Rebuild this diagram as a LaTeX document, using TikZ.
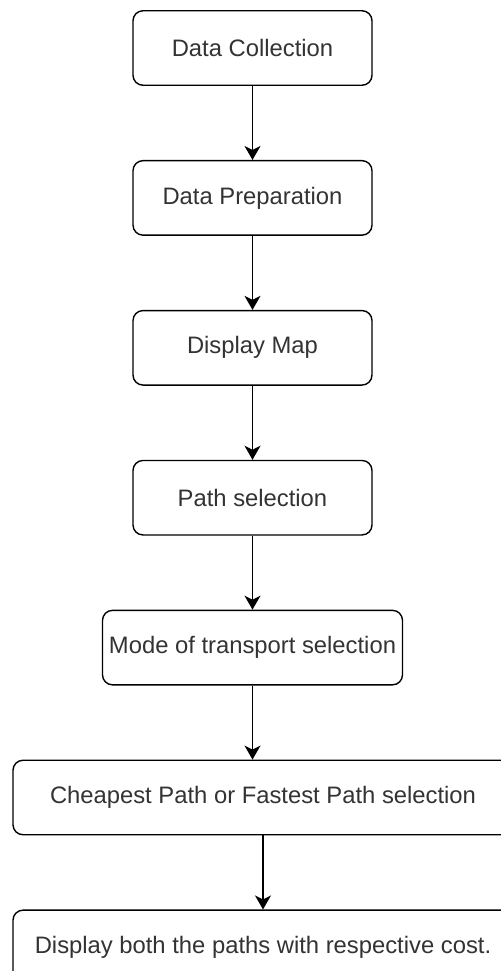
\documentclass[tikz,border=0pt]{standalone}
\usepackage{fontspec}
\setmainfont{Liberation Sans}
\usepackage{xcolor}
\usepackage{tikz}
\usetikzlibrary{positioning,arrows.meta}

\definecolor{txtgray}{HTML}{333333}

\begin{document}
\begin{tikzpicture}[
  stage/.style={draw, line width=0.7pt, rounded corners=5pt, minimum width=119.5pt,
                minimum height=37.25pt, align=center, text=txtgray,
                font=\fontsize{11.9}{14}\selectfont, fill=white, inner sep=2pt},
  arr/.style={-{Stealth[length=7pt, width=8pt, inset=2pt]}, line width=0.7pt},
  node distance=37pt
]
\useasboundingbox (0,0) rectangle (250.5pt,-485.5pt);

%% Main chain of stages
\node[stage] (nm1) at (126.25pt,-24pt) {Data Collection};
\node[stage, below=of nm1] (nm2) {Data Preparation};
\node[stage, below=of nm2] (nm3) {Display Map};
\node[stage, below=of nm3] (nm4) {Path selection};
\node[stage, below=of nm4, minimum width=150pt] (nm5) {Mode of transport selection};

%% Wide stages (cut at right edge)
\node[stage, below=of nm5, xshift=5.25pt, minimum width=250pt] (nm6)
  {Cheapest Path or Fastest Path selection};
\node[stage, below=of nm6, minimum width=250pt] (nm7)
  {Display both the paths with respective cost.};

\draw[arr] (nm1) -- (nm2);
\draw[arr] (nm2) -- (nm3);
\draw[arr] (nm3) -- (nm4);
\draw[arr] (nm4) -- (nm5);
\draw[arr] (nm5.south) -- (nm5.south |- nm6.north);
\draw[arr] (nm6) -- (nm7);
\end{tikzpicture}
\end{document}
